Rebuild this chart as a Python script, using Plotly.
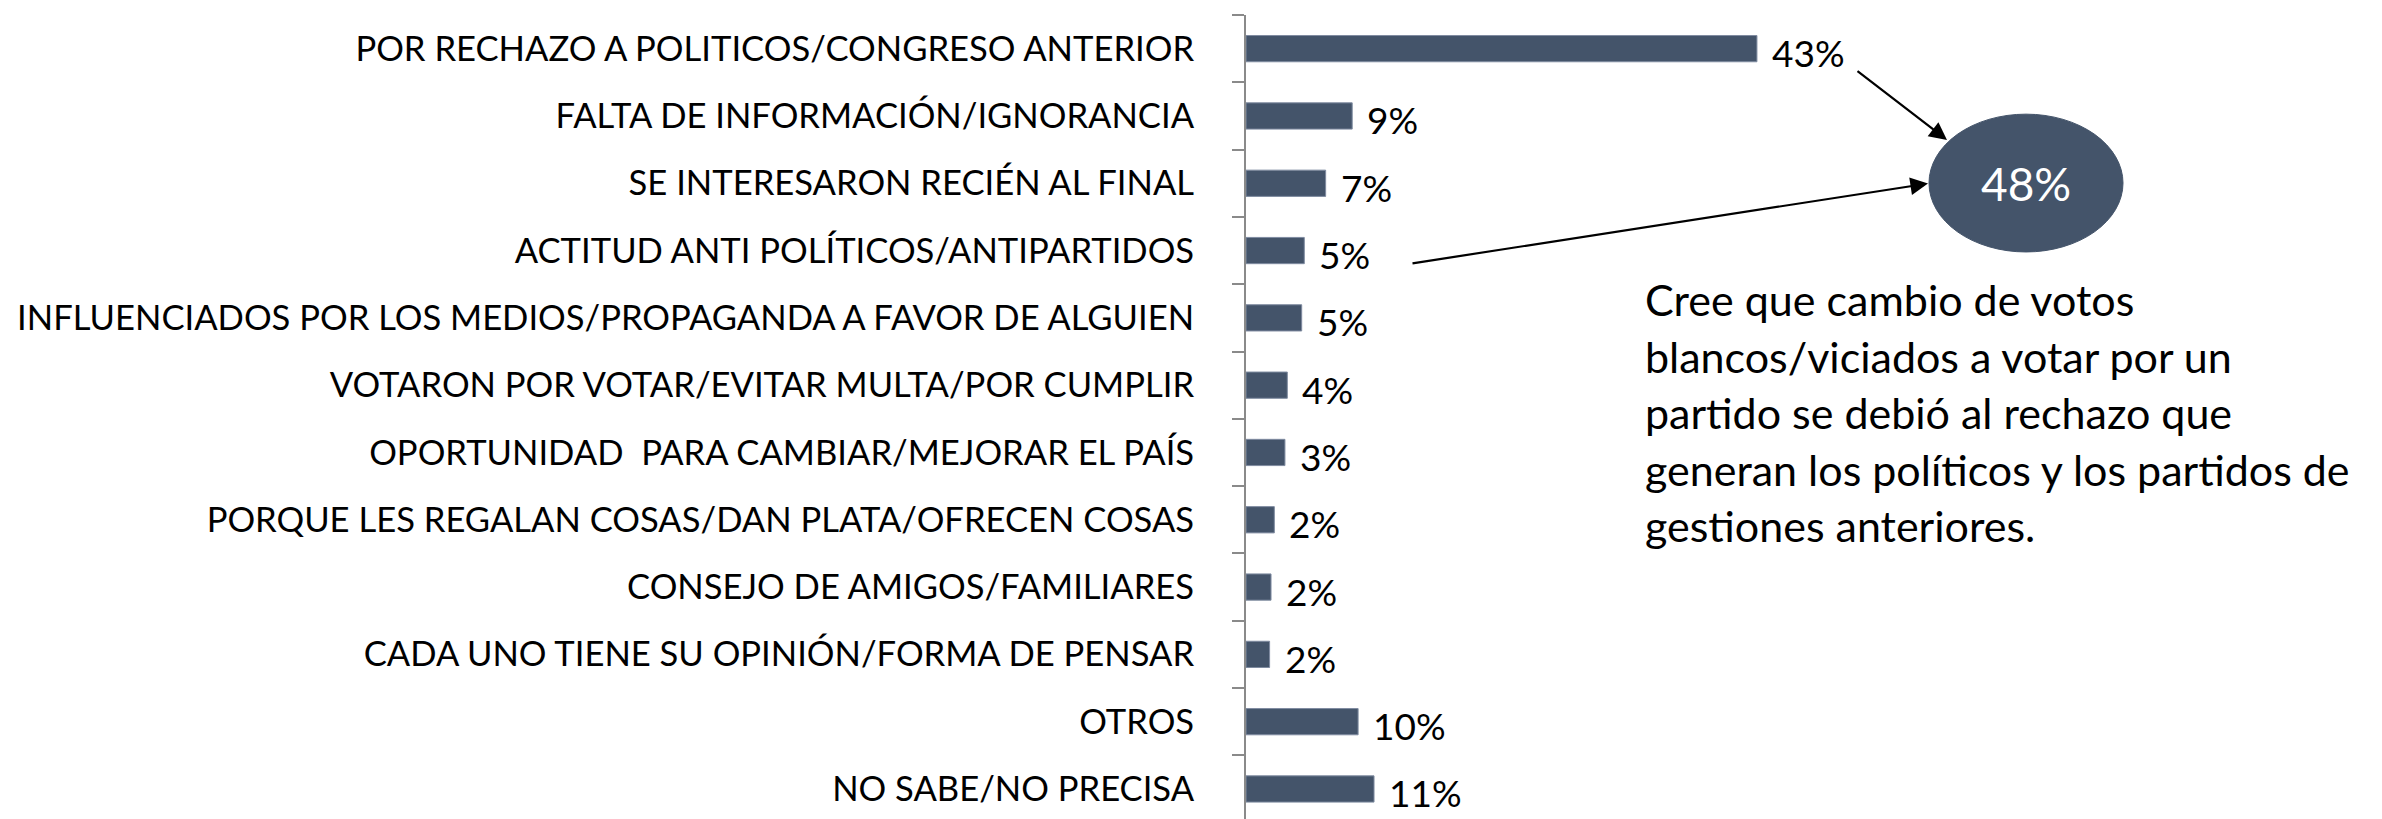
import plotly.graph_objects as go

categories = [
    "POR RECHAZO A POLITICOS/CONGRESO ANTERIOR",
    "FALTA DE INFORMACIÓN/IGNORANCIA",
    "SE INTERESARON RECIÉN AL FINAL",
    "ACTITUD ANTI POLÍTICOS/ANTIPARTIDOS",
    "INFLUENCIADOS POR LOS MEDIOS/PROPAGANDA A FAVOR DE ALGUIEN",
    "VOTARON POR VOTAR/EVITAR MULTA/POR CUMPLIR",
    "OPORTUNIDAD  PARA CAMBIAR/MEJORAR EL PAÍS",
    "PORQUE LES REGALAN COSAS/DAN PLATA/OFRECEN COSAS",
    "CONSEJO DE AMIGOS/FAMILIARES",
    "CADA UNO TIENE SU OPINIÓN/FORMA DE PENSAR",
    "OTROS",
    "NO SABE/NO PRECISA",
]
values = [43.3, 9.0, 6.75, 4.94, 4.72, 3.5, 3.3, 2.4, 2.12, 2.0, 9.5, 10.85]
value_labels = ["43%", "9%", "7%", "5%", "5%", "4%", "3%", "2%", "2%", "2%", "10%", "11%"]
total_label = "48%"
note_lines = [
    "Cree que cambio de votos",
    "blancos/viciados a votar por un",
    "partido se debió al rechazo que",
    "generan los políticos y los partidos de",
    "gestiones anteriores.",
]

W, H = 2382, 819
OFF = 8  # page body margin compensation
FONT = "Lato"
BAR = "#44546A"

def px(x):
    return (x - OFF) / W

def py(y):
    return 1 - (y - OFF) / H

x_dom0 = (1246 - OFF) / W
x_dom1 = 0.80
plot_w = x_dom1 * W - (1246 - OFF)
x_max = plot_w / 11.8

fig = go.Figure()
fig.add_trace(go.Bar(
    x=values, y=categories, orientation="h",
    marker=dict(color=BAR, line=dict(color="#7f8ba0", width=1)),
    width=0.39, hoverinfo="skip",
))

for c, v, t in zip(categories, values, value_labels):
    fig.add_annotation(x=v, y=c, xref="x", yref="y", text=t, showarrow=False,
                       xanchor="left", yanchor="middle", xshift=13, yshift=-4,
                       font=dict(family=FONT, size=37, color="black"))

# ellipse with total
ex0, ex1, ey0, ey1 = 1929, 2123, 108, 247
fig.add_shape(type="circle", xref="paper", yref="paper",
              x0=px(ex0), x1=px(ex1), y0=py(ey1), y1=py(ey0),
              fillcolor=BAR, line=dict(color=BAR, width=1), layer="above")
fig.add_annotation(x=px((ex0 + ex1) / 2), y=py((ey0 + ey1) / 2), xref="paper", yref="paper",
                   text=total_label, showarrow=False, xanchor="center", yanchor="middle",
                   font=dict(family=FONT, size=46, color="white"))

# arrows (tail given as pixel offset from the tip)
def arrow(tip, tail):
    fig.add_annotation(x=px(tip[0]), y=py(tip[1]), xref="paper", yref="paper",
                       axref="pixel", ayref="pixel",
                       ax=tail[0] - tip[0], ay=tail[1] - tip[1],
                       text="", showarrow=True, arrowhead=2, arrowsize=1.6,
                       arrowwidth=2.2, arrowcolor="black")

arrow((1947, 134), (1856, 64))
arrow((1928, 178), (1411, 258))

# note text
for i, line in enumerate(note_lines):
    base = 313 + 57 * i
    fig.add_annotation(x=px(1643), y=py(base - 18), xref="paper", yref="paper",
                       text=line, showarrow=False, xanchor="left", yanchor="middle",
                       font=dict(family=FONT, size=43, color="black"))

fig.update_layout(
    width=W, height=H,
    margin=dict(l=0, r=0, t=15 - OFF, b=0),
    paper_bgcolor="white", plot_bgcolor="white",
    showlegend=False,
    xaxis=dict(domain=[x_dom0, x_dom1], range=[0, x_max], visible=False, fixedrange=True),
    yaxis=dict(
        type="category", categoryorder="array", categoryarray=categories,
        range=[11.565, -0.5],
        showline=True, linecolor="#8a8a8a", linewidth=2,
        ticks="outside", ticklen=12, tickcolor="#8a8a8a", tickwidth=2,
        tickson="boundaries", showgrid=False, zeroline=False,
        ticklabelstandoff=43,
        tickfont=dict(family=FONT, size=34.6, color="black"),
    ),
)

fig.write_html("out.html")
